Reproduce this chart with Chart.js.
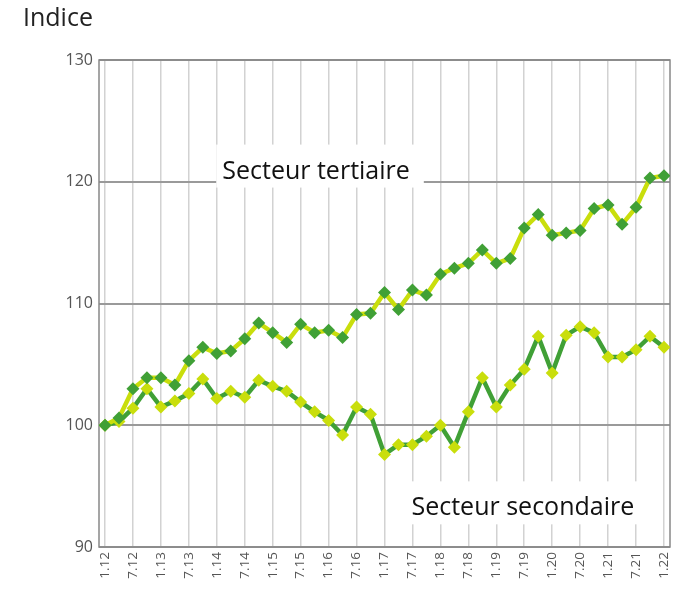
<!DOCTYPE html>
<html>
<head>
<meta charset="utf-8">
<script src="https://cdn.jsdelivr.net/npm/chart.js@4/dist/chart.umd.min.js"></script>
<style>
  html, body { margin: 0; padding: 0; background: #fff; }
</style>
</head>
<body>
<canvas id="chart" width="691" height="595"></canvas>
<script>
// Tick labels, one every 6 months (points are quarterly)
const tickLabels = ['1.12', '7.12', '1.13', '7.13', '1.14', '7.14', '1.15', '7.15', '1.16', '7.16',
  '1.17', '7.17', '1.18', '7.18', '1.19', '7.19', '1.20', '7.20', '1.21', '7.21', '1.22'];

// Index values, quarterly from 1.12 to 1.22
const tertiaire = [100.0, 100.6, 103.0, 103.9, 103.9, 103.3, 105.3, 106.4, 105.9, 106.1,
  107.1, 108.4, 107.6, 106.8, 108.3, 107.6, 107.8, 107.2, 109.1, 109.2,
  110.9, 109.5, 111.1, 110.7, 112.4, 112.9, 113.3, 114.4, 113.3, 113.7,
  116.2, 117.3, 115.6, 115.8, 116.0, 117.8, 118.1, 116.5, 117.9, 120.3, 120.5];

const secondaire = [100.0, 100.3, 101.4, 103.0, 101.5, 102.0, 102.6, 103.8, 102.2, 102.8,
  102.3, 103.7, 103.2, 102.8, 101.9, 101.1, 100.4, 99.2, 101.5, 100.9,
  97.6, 98.4, 98.4, 99.1, 100.0, 98.2, 101.1, 103.9, 101.5, 103.3,
  104.6, 107.3, 104.3, 107.4, 108.1, 107.6, 105.6, 105.6, 106.2, 107.3, 106.4];

const quarters = tertiaire.map((_, i) => i);

const yellow = '#c9de0c';
const green = '#40a036';
const font = '"Open Sans", sans-serif';

// White boxed series labels, placed in data coordinates (x = quarter index, y = baseline)
const seriesLabels = [
  { text: 'Secteur tertiaire', x: 15.1, y: 120.26 },
  { text: 'Secteur secondaire', x: 29.9, y: 92.6 }
];

const labelPlugin = {
  id: 'labels',
  beforeDatasetsDraw(chart) {
    const ctx = chart.ctx;
    const xs = chart.scales.x, ys = chart.scales.y;
    const a = chart.chartArea;
    ctx.save();
    // frame
    ctx.strokeStyle = '#888';
    ctx.lineWidth = 1.5;
    ctx.strokeRect(a.left, a.top, a.right - a.left, a.bottom - a.top);
    ctx.font = '25px ' + font;
    ctx.textAlign = 'center';
    ctx.textBaseline = 'alphabetic';
    seriesLabels.forEach(l => {
      const cx = xs.getPixelForValue(l.x);
      const by = ys.getPixelForValue(l.y);
      const w = ctx.measureText(l.text).width;
      ctx.fillStyle = '#fff';
      ctx.fillRect(cx - w / 2 - 6, by - 34, w + 20, 43);
      ctx.fillStyle = '#111';
      ctx.fillText(l.text, cx, by);
    });
    // axis title
    ctx.textAlign = 'left';
    ctx.fillStyle = '#222';
    ctx.fillText('Indice', 23, 26);
    ctx.restore();
  }
};

new Chart(document.getElementById('chart'), {
  type: 'line',
  data: {
    labels: quarters,
    datasets: [
      {
        label: 'Secteur tertiaire',
        data: tertiaire,
        borderColor: yellow,
        borderWidth: 4.5,
        pointStyle: 'rectRot',
        pointRadius: 6.5,
        pointBackgroundColor: green,
        pointBorderWidth: 0,
        tension: 0
      },
      {
        label: 'Secteur secondaire',
        data: secondaire,
        borderColor: green,
        borderWidth: 4.5,
        pointStyle: 'rectRot',
        pointRadius: 6.5,
        pointBackgroundColor: yellow,
        pointBorderWidth: 0,
        tension: 0
      }
    ]
  },
  options: {
    responsive: false,
    animation: false,
    layout: { padding: { left: 0, top: 60, right: 21, bottom: 0 } },
    plugins: {
      legend: { display: false },
      tooltip: { enabled: false }
    },
    scales: {
      x: {
        type: 'linear',
        min: -0.43,
        max: 40.43,
        afterBuildTicks(scale) {
          scale.ticks = tickLabels.map((_, i) => ({ value: i * 2 }));
        },
        afterFit(scale) { scale.height = 48; },
        grid: { color: '#d2d2d2', lineWidth: 1.5, drawTicks: false },
        border: { display: false },
        ticks: {
          autoSkip: false,
          minRotation: 90,
          maxRotation: 90,
          padding: 5,
          color: '#555',
          font: { family: font, size: 13.5 },
          callback: v => tickLabels[v / 2]
        }
      },
      y: {
        min: 90,
        max: 130,
        afterFit(scale) { scale.width = 99; },
        grid: { color: '#9a9a9a', lineWidth: 2, drawTicks: false },
        border: { display: false },
        ticks: {
          stepSize: 10,
          padding: 6,
          color: '#555',
          font: { family: font, size: 16 }
        }
      }
    }
  },
  plugins: [labelPlugin]
});
</script>
</body>
</html>
